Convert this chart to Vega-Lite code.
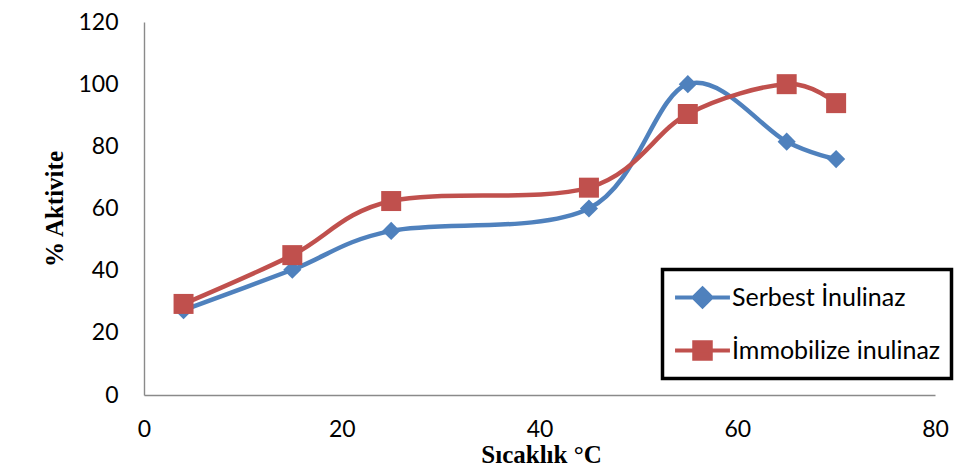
{
  "$schema": "https://vega.github.io/schema/vega-lite/v6.json",
  "width": 791,
  "height": 373,
  "autosize": {"type": "none"},
  "padding": {"left": 144, "top": 22, "right": 26, "bottom": 79},
  "background": "white",
  "config": {
    "view": {"stroke": null},
    "font": "Lato"
  },
  "data": {
    "values": [
      {"series": "Serbest İnulinaz", "temp": 4, "activity": 27.3},
      {"series": "Serbest İnulinaz", "temp": 15, "activity": 40.3},
      {"series": "Serbest İnulinaz", "temp": 25, "activity": 52.8},
      {"series": "Serbest İnulinaz", "temp": 45, "activity": 60.0},
      {"series": "Serbest İnulinaz", "temp": 55, "activity": 100.0},
      {"series": "Serbest İnulinaz", "temp": 65, "activity": 81.5},
      {"series": "Serbest İnulinaz", "temp": 70, "activity": 75.9},
      {"series": "İmmobilize inulinaz", "temp": 4, "activity": 29.3},
      {"series": "İmmobilize inulinaz", "temp": 15, "activity": 45.0},
      {"series": "İmmobilize inulinaz", "temp": 25, "activity": 62.4},
      {"series": "İmmobilize inulinaz", "temp": 45, "activity": 66.7},
      {"series": "İmmobilize inulinaz", "temp": 55, "activity": 90.4},
      {"series": "İmmobilize inulinaz", "temp": 65, "activity": 100.0},
      {"series": "İmmobilize inulinaz", "temp": 70, "activity": 93.9}
    ]
  },
  "encoding": {
    "x": {
      "field": "temp",
      "type": "quantitative",
      "scale": {"domain": [0, 80], "nice": false, "zero": false},
      "axis": {
        "values": [0, 20, 40, 60, 80],
        "title": "Sıcaklık °C",
        "titleFont": "Liberation Serif",
        "titleFontWeight": "bold",
        "titleFontSize": 25,
        "titleColor": "black",
        "titleX": 397,
        "titleY": 67,
        "titleBaseline": "alphabetic",
        "titleAlign": "center",
        "labelFont": "Lato",
        "labelFontSize": 23,
        "labelColor": "black",
        "labelBaseline": "middle",
        "labelPadding": 34,
        "labelFlush": false,
        "ticks": false,
        "tickSize": 0,
        "grid": false,
        "domainColor": "#8a8a8a",
        "domainWidth": 1.4
      }
    },
    "y": {
      "field": "activity",
      "type": "quantitative",
      "scale": {"domain": [0, 120], "nice": false},
      "axis": {
        "values": [0, 20, 40, 60, 80, 100, 120],
        "title": "% Aktivite",
        "titleFont": "Liberation Serif",
        "titleFontWeight": "bold",
        "titleFontSize": 25,
        "titleColor": "black",
        "titleX": -82,
        "titleY": 186.5,
        "titleBaseline": "alphabetic",
        "titleAlign": "center",
        "labelFont": "Lato",
        "labelFontSize": 23,
        "labelColor": "black",
        "labelPadding": 26,
        "labelFlush": false,
        "ticks": false,
        "tickSize": 0,
        "grid": false,
        "domainColor": "#8a8a8a",
        "domainWidth": 1.4
      }
    }
  },
  "layer": [
    {
      "mark": {"type": "point", "filled": true, "opacity": 0},
      "encoding": {
        "color": {
          "field": "series",
          "type": "nominal",
          "scale": {
            "domain": ["Serbest İnulinaz", "İmmobilize inulinaz"],
            "range": ["#4F81BD", "#C0504D"]
          },
          "legend": {
            "title": null,
            "orient": "none",
            "legendX": 518.5,
            "legendY": 247.5,
            "padding": 11,
            "symbolSize": 900,
            "symbolOffset": 12,
            "rowPadding": 19,
            "labelOffset": 12.5,
            "labelLimit": 400,
            "labelFont": "Lato",
            "labelFontSize": 25,
            "labelColor": "black",
            "strokeColor": "black",
            "fillColor": "white",
            "encode": {
              "legend": {"update": {"strokeWidth": {"value": 3.5}}},
              "symbols": {
                "update": {
                  "opacity": {"value": 1},
                  "fill": {"scale": "color", "field": "value"},
                  "stroke": {"scale": "color", "field": "value"},
                  "strokeWidth": {"value": 4}
                }
              }
            }
          }
        },
        "shape": {
          "field": "series",
          "type": "nominal",
          "scale": {
            "domain": ["Serbest İnulinaz", "İmmobilize inulinaz"],
            "range": [
              "M-1.83,0H1.83M0,-0.6L0.6,0L0,0.6L-0.6,0Z",
              "M-1.83,0H1.83M-0.55,-0.55H0.55V0.55H-0.55Z"
            ]
          },
          "legend": {
            "title": null,
            "orient": "none",
            "legendX": 518.5,
            "legendY": 247.5,
            "padding": 11,
            "symbolSize": 900,
            "symbolOffset": 12,
            "rowPadding": 19,
            "labelOffset": 12.5,
            "labelLimit": 400,
            "labelFont": "Lato",
            "labelFontSize": 25,
            "labelColor": "black",
            "strokeColor": "black",
            "fillColor": "white",
            "encode": {
              "legend": {"update": {"strokeWidth": {"value": 3.5}}},
              "symbols": {
                "update": {
                  "opacity": {"value": 1},
                  "fill": {"scale": "color", "field": "value"},
                  "stroke": {"scale": "color", "field": "value"},
                  "strokeWidth": {"value": 4}
                }
              }
            }
          }
        }
      }
    },
    {
      "mark": {"type": "line", "interpolate": "cardinal", "strokeWidth": 4.5},
      "encoding": {
        "color": {"field": "series", "type": "nominal"}
      }
    },
    {
      "transform": [{"filter": "datum.series === 'Serbest İnulinaz'"}],
      "mark": {"type": "point", "shape": "diamond", "filled": true, "size": 330, "opacity": 1},
      "encoding": {
        "color": {"field": "series", "type": "nominal"}
      }
    },
    {
      "transform": [{"filter": "datum.series === 'İmmobilize inulinaz'"}],
      "mark": {"type": "point", "shape": "square", "filled": true, "size": 400, "opacity": 1},
      "encoding": {
        "color": {"field": "series", "type": "nominal"}
      }
    }
  ]
}
